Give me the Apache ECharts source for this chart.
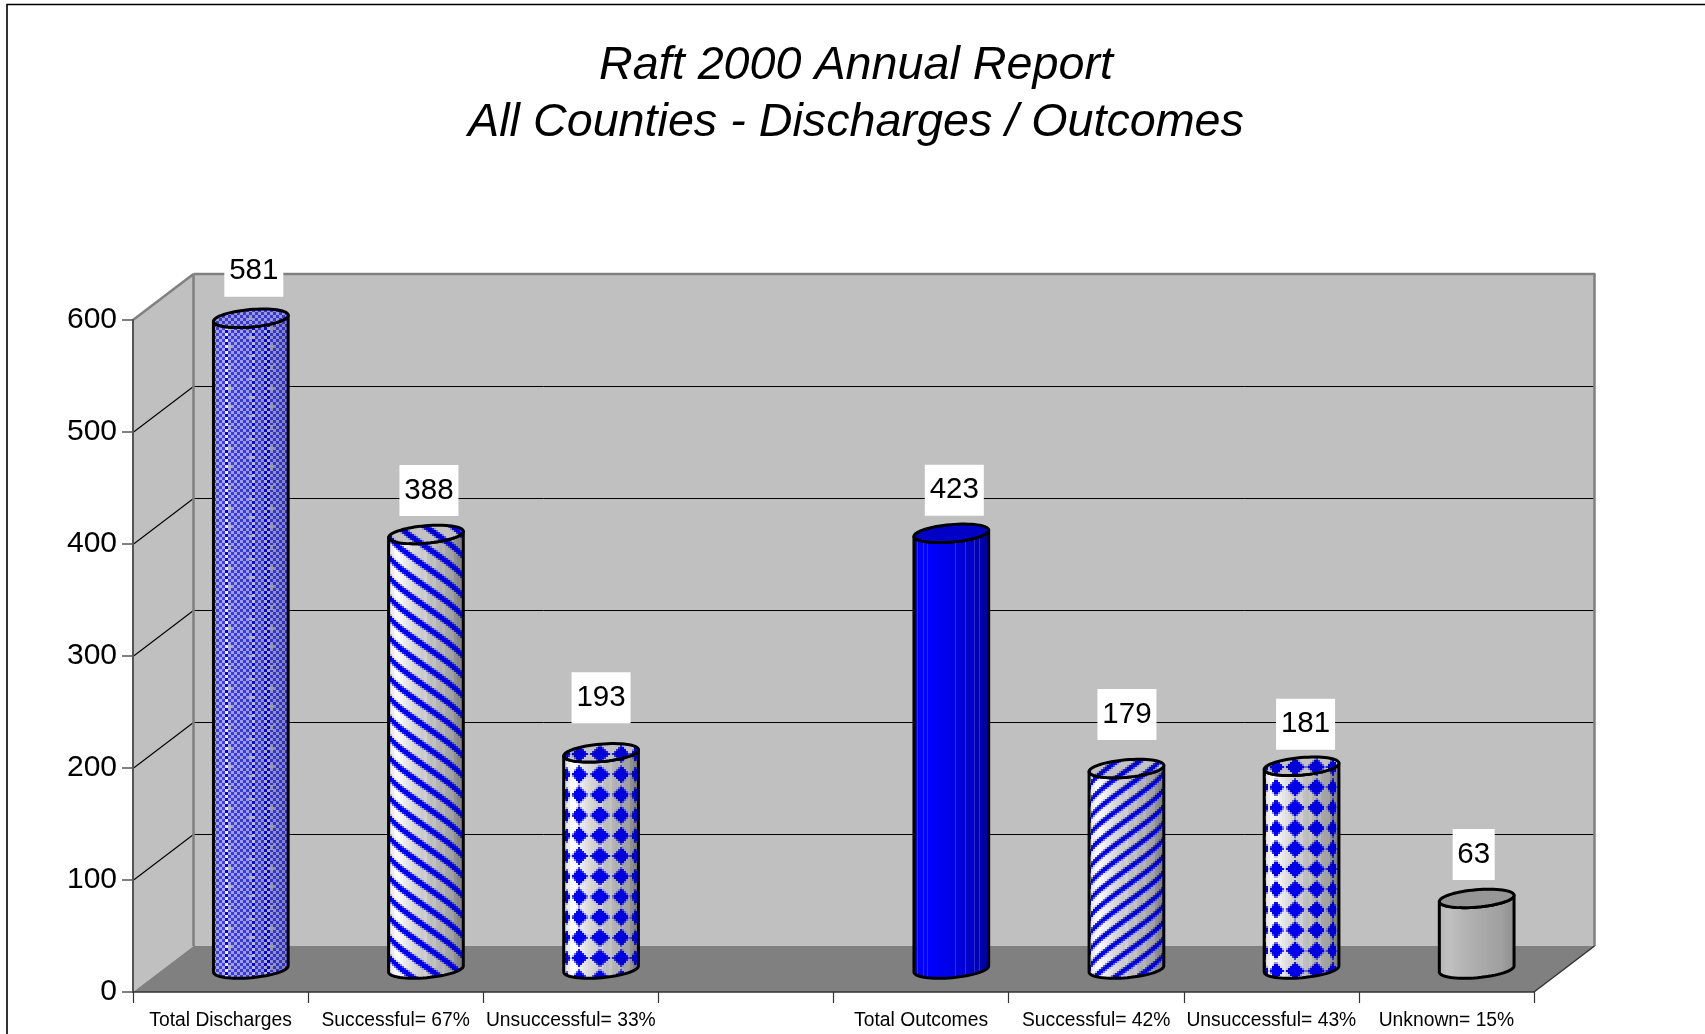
<!DOCTYPE html>
<html>
<head>
<meta charset="utf-8">
<style>html,body{margin:0;padding:0;background:#fff}#chart{width:1705px;height:1034px}</style>
<script src="https://cdn.jsdelivr.net/npm/echarts@6/dist/echarts.min.js"></script>
</head>
<body>
<div id="chart"></div>
<script>
var titleLines = ['Raft 2000 Annual Report', 'All Counties - Discharges / Outcomes'];
var categories = ['Total Discharges', 'Successful= 67%', 'Unsuccessful= 33%', '', 'Total Outcomes', 'Successful= 42%', 'Unsuccessful= 43%', 'Unknown= 15%'];
var barHeights = [581, 388, 193, null, 389, 179, 181, 63];
var valueLabels = ['581', '388', '193', '', '423', '179', '181', '63'];
var yTicks = [100, 200, 300, 400, 500];

// styling only
var barKinds = ['checker', 'stripeDown', 'diamondA', '', 'solid', 'stripeUp', 'diamondB', 'gray'];
var labelLift = [47, 44, 55, 0, 43, 54, 42, 44];
var labelShift = [3, 3, 0, 0, 3, 0.5, 4, -3];
var DX = 60.5, DY = -46, FONT = '"Liberation Sans", Arial, sans-serif';
var RX = 37.5, RY = 8.7, TILT = -5 * Math.PI / 180;

function clamp(v, a, b) { return Math.max(a, Math.min(b, v)); }
function shadeAt(t) {
  var st = [[0, .88], [.1, 1], [.3, .86], [.55, .74], [.8, .64], [1, .44]];
  for (var i = 1; i < st.length; i++) {
    if (t <= st[i][0]) {
      var k = (t - st[i - 1][0]) / (st[i][0] - st[i - 1][0]);
      return st[i - 1][1] + (st[i][1] - st[i - 1][1]) * k;
    }
  }
  return .44;
}
function soft(d, w, e) { return clamp((w - d) / e + .5, 0, 1); }

function patternValue(kind, x, y) {
  var w = 75, r = w / 2;
  var px = Math.floor(x / 2) * 2, py = Math.floor(y / 2) * 2;
  var X = .6 * px + .4 * r * (Math.asin(clamp((px - r) / r, -1, 1)) + 1.57), P, d;
  if (kind === 'stripeDown') {
    P = 20; d = ((py - .7 * X) % P + P) % P; d = Math.min(d, P - d);
    return soft(d, 3.6, 2.4);
  }
  if (kind === 'stripeUp') {
    P = 16.5; d = ((py + .72 * X) % P + P) % P; d = Math.min(d, P - d);
    return soft(d, 3.1, 2.4);
  }
  if (kind === 'diamondA' || kind === 'diamondB') {
    var t0 = kind === 'diamondA' ? -.04 : -.17, sp = kind === 'diamondA' ? .6 : .58;
    var thp = Math.asin(clamp((px + 1 - r) / r, -1, 1));
    var u = (thp - t0) / sp; var du = u - Math.round(u);
    var v = py / 20.4; var dv = v - Math.round(v);
    return soft(Math.abs(du) * 20 + Math.abs(dv) * 20.4, 9, 2.2);
  }
  return 0;
}

function makeTexture(kind, top) {
  var W = 76, H = kind === 'checker' ? 60 : kind === 'stripeDown' ? 40 : kind === 'stripeUp' ? 66 : kind.indexOf('diamond') === 0 ? 204 : 4;
  var c = document.createElement('canvas'); c.width = W; c.height = H;
  var g = c.getContext('2d'), im = g.createImageData(W, H);
  for (var y = 0; y < H; y++) for (var x = 0; x < W; x++) {
    var t = Math.floor(x / 3) * 3 / 75;
    var s = top ? .76 : shadeAt(t);
    if (!top && t > .45 && (Math.floor(x / 3) % 3 === 0)) s *= 1.05;
    var R, G, B, i = (y * W + x) * 4;
    if (kind === 'solid') {
      var sb = top ? .78 : clamp(.5 + .5 * shadeAt(t) * 1.05, 0, 1) - (t > .55 ? .18 * (t - .55) / .45 : 0);
      var ln = !top && (x === 3 || x === 9 || x === 13 || x === 41 || x === 51 || x === 60 || x === 65);
      R = ln ? 45 : 0; G = ln ? 45 : 0; B = 255 * sb * (ln ? 1.05 : 1);
    } else if (kind === 'gray') {
      var v = top ? 150 : 205 * (.55 + .5 * shadeAt(t)) * .9;
      R = G = B = v;
    } else if (kind === 'checker') {
      var chk = (Math.floor(x / 3) + Math.floor(y / 3)) % 2 === 0;
      var crisp = !top && (Math.abs(t - .16) < .025 || Math.abs(t - .52) < .025 || Math.abs(t - .70) < .025);
      var sc = .55 + .45 * s;
      if (crisp) {
        R = G = chk ? 0 : 255 * s; B = chk ? 230 : 255 * s;
      } else {
        R = G = (chk ? 62 : 170) * sc; B = (chk ? 235 : 245) * sc;
      }
      var sx = ((x - 6) % 21 + 21) % 21, sy = (y + (Math.floor((x - 6) / 21) % 2 ? 10 : 0)) % 20;
      if ((sx === 9 || sx === 10 || sx === 11) && sy >= 7 && sy <= 11 && !crisp) { R = G = 178 * sc; B = 205 * sc; }
    } else {
      var p = patternValue(kind, x, y);
      var bg = 255 * s;
      var fb = top ? 215 : 255 * (.62 + .36 * s);
      R = G = bg * (1 - p); B = bg * (1 - p) + fb * p;
    }
    im.data[i] = R; im.data[i + 1] = G; im.data[i + 2] = B; im.data[i + 3] = 255;
  }
  g.putImageData(im, 0, 0);
  return c;
}

var textures = barKinds.map(function (k) { return k ? { body: makeTexture(k, false), top: makeTexture(k, true) } : null; });

function ellPt(cx, cy, a) {
  var ex = RX * Math.cos(a), ey = RY * Math.sin(a);
  return [cx + ex * Math.cos(TILT) - ey * Math.sin(TILT), cy + ex * Math.sin(TILT) + ey * Math.cos(TILT)];
}

function renderWalls(params, api) {
  var cs = params.coordSys;
  var xl = cs.x, xr = cs.x + cs.width;
  var y0 = api.coord([0, 0])[1], yT = api.coord([0, 600])[1];
  var ch = [];
  function poly(pts, fill) { ch.push({ type: 'polygon', shape: { points: pts }, style: { fill: fill, stroke: null }, silent: true }); }
  function line(a, b, color, w) { ch.push({ type: 'line', shape: { x1: a[0], y1: a[1], x2: b[0], y2: b[1] }, style: { stroke: color, lineWidth: w, lineCap: 'butt' }, silent: true }); }
  poly([[xl + DX, yT + DY], [xr + DX, yT + DY], [xr + DX, y0 + DY], [xl + DX, y0 + DY]], '#c0c0c0');
  poly([[xl, yT], [xl + DX, yT + DY], [xl + DX, y0 + DY], [xl, y0]], '#c0c0c0');
  poly([[xl, y0], [xr, y0], [xr + DX, y0 + DY], [xl + DX, y0 + DY]], '#808080');
  yTicks.forEach(function (v) {
    var y = Math.round(api.coord([0, v])[1] + DY) + 0.5;
    line([xl, y - DY], [xl + DX, y], '#000', 1.1);
    line([xl + DX, y], [xr + DX, y], '#000', 1);
  });
  line([xl, yT], [xl + DX, yT + DY], '#808080', 2.5);
  line([xl + DX, yT + DY], [xr + DX + 1, yT + DY], '#808080', 2.5);
  line([xl + DX, yT + DY], [xl + DX, y0 + DY], '#808080', 2.5);
  line([xr + DX, yT + DY], [xr + DX, y0 + DY], '#808080', 2.5);
  line([xr, y0], [xr + DX, y0 + DY], '#333', 1.5);
  return { type: 'group', children: ch };
}

function renderBar(params, api) {
  var idx = api.value(0), val = api.value(1);
  var base = api.coord([idx, 0]), topP = api.coord([idx, val]);
  var cx = base[0] + DX / 2, cyB = base[1] + DY / 2, cyT = topP[1] + DY / 2;
  var i, a, n = 32;
  var body = [ellPt(cx, cyT, Math.PI)];
  for (i = 0; i <= n; i++) { a = Math.PI - Math.PI * i / n; body.push(ellPt(cx, cyB, a)); }
  for (i = n; i >= 0; i--) { a = Math.PI - Math.PI * i / n; body.push(ellPt(cx, cyT, a)); }
  var ell = [];
  for (i = 0; i < 64; i++) ell.push(ellPt(cx, cyT, i / 64 * 2 * Math.PI));
  var left = cx - RX, ty = cyT;
  var tex = textures[idx];
  return {
    type: 'group', children: [
      { type: 'polygon', shape: { points: body }, style: { fill: { image: tex.body, repeat: 'repeat', x: Math.round(left), y: Math.round(ty) }, stroke: '#000', lineWidth: 3, lineJoin: 'round' }, silent: true },
      { type: 'polygon', shape: { points: ell }, style: { fill: { image: tex.top, repeat: 'repeat', x: Math.round(left), y: Math.round(ty) }, stroke: '#000', lineWidth: 3, lineJoin: 'round' }, silent: true }
    ]
  };
}

function renderLabel(params, api) {
  var idx = api.value(0), val = api.value(1);
  var p = api.coord([idx, val]);
  var cx = p[0] + DX / 2 + labelShift[idx], cy = p[1] + DY / 2 - labelLift[idx];
  var boxW = valueLabels[idx].length * 17 + 8;
  return {
    type: 'group', children: [
      { type: 'rect', shape: { x: cx - boxW / 2, y: cy - 25.5, width: boxW, height: 51 }, style: { fill: '#fff' }, silent: true },
      { type: 'text', x: cx, y: cy, style: { text: valueLabels[idx], fill: '#000', font: '29.5px ' + FONT, align: 'center', verticalAlign: 'middle' }, silent: true }
    ]
  };
}

var barData = [];
barHeights.forEach(function (v, i) { if (v !== null) barData.push([i, v]); });

var chart = echarts.init(document.getElementById('chart'), null, { renderer: 'canvas' });
chart.setOption({
  animation: false,
  backgroundColor: '#fff',
  title: {
    text: titleLines.join('\n'), left: 851, top: 33, textAlign: 'center',
    textStyle: { fontFamily: FONT, fontStyle: 'italic', fontWeight: 'normal', fontSize: 46.7, lineHeight: 56.5, color: '#000' }
  },
  grid: { left: 133, right: 171, top: 320, bottom: 42, containLabel: false },
  xAxis: {
    type: 'category', data: categories, z: 5,
    axisLine: { lineStyle: { color: '#333', width: 1.5 } },
    axisTick: { show: true, length: 11, alignWithLabel: false, lineStyle: { color: '#333', width: 1.2 } },
    axisLabel: { interval: 0, hideOverlap: false, margin: 19, color: '#000', fontFamily: FONT, fontSize: 19.3 },
    splitLine: { show: false }
  },
  yAxis: {
    type: 'value', min: 0, max: 600, interval: 100, z: 5,
    axisLine: { show: true, lineStyle: { color: '#555', width: 2 } },
    axisTick: { show: true, length: 11, lineStyle: { color: '#555', width: 1.5 } },
    axisLabel: { margin: 16, color: '#000', fontFamily: FONT, fontSize: 30, padding: [3, 0, 0, 0] },
    splitLine: { show: false }
  },
  series: [
    { type: 'custom', name: 'walls', z: 1, silent: true, clip: false, renderItem: renderWalls, data: [[0, 0]], encode: { x: 0, y: 1 } },
    { type: 'custom', name: 'bars', z: 3, silent: true, clip: false, renderItem: renderBar, data: barData, encode: { x: 0, y: 1 } },
    { type: 'custom', name: 'labels', z: 4, silent: true, clip: false, renderItem: renderLabel, data: barData, encode: { x: 0, y: 1 } }
  ],
  graphic: [
    { type: 'polyline', z: 10, silent: true, shape: { points: [[7, 1034], [7, 4.5], [1705, 4.5]] }, style: { fill: null, stroke: '#000', lineWidth: 1.6 } }
  ]
});
</script>
</body>
</html>
